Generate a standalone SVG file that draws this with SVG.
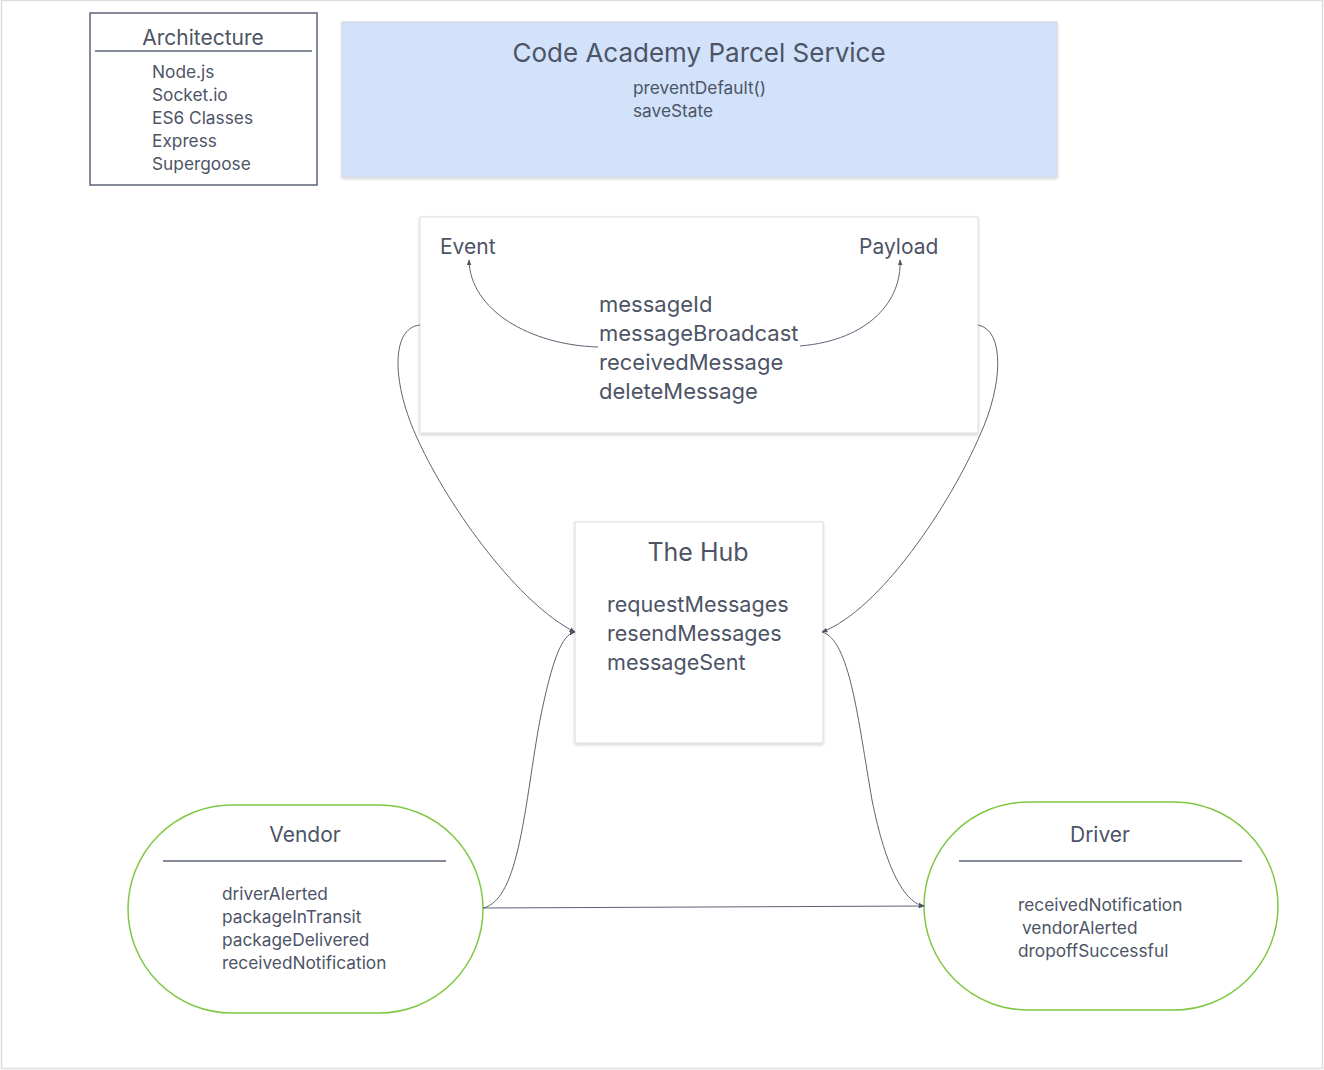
<svg xmlns="http://www.w3.org/2000/svg" width="1324" height="1070" viewBox="0 0 1324 1070">
<style>
.t{font-family:Inter,"Noto Sans","Liberation Sans",sans-serif;fill:#4d5466}
.c{fill:none;stroke:#5d6376;stroke-width:1}
.card{fill:#ffffff;stroke:#dcdcdc;stroke-width:1}
.pill{fill:#ffffff;stroke:#7ec843;stroke-width:1.5}
.rule{stroke:#5d6376;stroke-width:1.5}
</style>
<defs>
<filter id="sh" x="-5%" y="-5%" width="110%" height="115%">
<feDropShadow dx="0" dy="1.5" stdDeviation="1.5" flood-color="#000" flood-opacity="0.18"/>
</filter>
<marker id="ah" viewBox="0 0 10 10" refX="9" refY="5" markerWidth="6" markerHeight="6" orient="auto-start-reverse" markerUnits="userSpaceOnUse">
<path d="M0,1 L10,5 L0,9 z" fill="#4d5466"/>
</marker>
</defs>
<rect x="1.5" y="0.5" width="1321" height="1068" fill="#ffffff" stroke="#dedede" stroke-width="1.5"/>

<g id="architecture">
<rect x="90" y="13" width="227" height="172" fill="#ffffff" stroke="#5d6376" stroke-width="1.5"/>
<text class="t" x="203" y="45" font-size="21" text-anchor="middle">Architecture</text>
<line class="rule" x1="95" y1="51" x2="312" y2="51"/>
<text class="t" font-size="17.3"><tspan x="152" y="78">Node.js</tspan><tspan x="152" y="101">Socket.io</tspan><tspan x="152" y="124">ES6 Classes</tspan><tspan x="152" y="147">Express</tspan><tspan x="152" y="170">Supergoose</tspan></text>
</g>

<g id="parcel-service">
<rect x="342" y="22" width="715" height="155" fill="#d1e2fa" stroke="#d0d6de" stroke-width="1" filter="url(#sh)"/>
<text class="t" x="699" y="62" font-size="26" text-anchor="middle">Code Academy Parcel Service</text>
<text class="t" font-size="17.3"><tspan x="633" y="94">preventDefault()</tspan><tspan x="633" y="117">saveState</tspan></text>
</g>

<g id="event-payload">
<rect class="card" x="420" y="217" width="558" height="216" filter="url(#sh)"/>
<text class="t" x="440" y="254" font-size="21">Event</text>
<text class="t" x="859" y="254" font-size="21">Payload</text>
<text class="t" font-size="22"><tspan x="599" y="312">messageId</tspan><tspan x="599" y="341">messageBroadcast</tspan><tspan x="599" y="370">receivedMessage</tspan><tspan x="599" y="399">deleteMessage</tspan></text>
</g>

<g id="hub">
<rect class="card" x="575" y="522" width="248" height="221" filter="url(#sh)"/>
<text class="t" x="698" y="561" font-size="25" text-anchor="middle">The Hub</text>
<text class="t" font-size="21.6"><tspan x="607" y="612">requestMessages</tspan><tspan x="607" y="641">resendMessages</tspan><tspan x="607" y="670">messageSent</tspan></text>
</g>

<g id="vendor">
<rect class="pill" x="128" y="805" width="355" height="208" rx="104" ry="104"/>
<text class="t" x="305" y="842" font-size="21" text-anchor="middle">Vendor</text>
<line class="rule" x1="163" y1="861" x2="446" y2="861"/>
<text class="t" font-size="17.3"><tspan x="222" y="900">driverAlerted</tspan><tspan x="222" y="923">packageInTransit</tspan><tspan x="222" y="946">packageDelivered</tspan><tspan x="222" y="969">receivedNotification</tspan></text>
</g>

<g id="driver">
<rect class="pill" x="924" y="802" width="354" height="208" rx="104" ry="104"/>
<text class="t" x="1100" y="842" font-size="21" text-anchor="middle">Driver</text>
<line class="rule" x1="959" y1="861" x2="1242" y2="861"/>
<text class="t" font-size="17.3"><tspan x="1018" y="911">receivedNotification</tspan><tspan x="1022" y="934">vendorAlerted</tspan><tspan x="1018" y="957">dropoffSuccessful</tspan></text>
</g>

<g id="connectors">
<path class="c" d="M420,325 C390,328 392,385 418,440 C450,510 520,605 575,632" marker-end="url(#ah)"/>
<path class="c" d="M978,325 C1005,330 1003,385 980,435 C950,505 880,610 822,632" marker-end="url(#ah)"/>
<path class="c" d="M598,347 C530,345 470,310 469,260" marker-end="url(#ah)"/>
<path class="c" d="M800,346 C870,340 902,300 900,260" marker-end="url(#ah)"/>
<path class="c" d="M483,908 C520,900 525,800 540,720 C552,660 562,634 575,632" marker-end="url(#ah)"/>
<path class="c" d="M822,632 C850,640 858,720 872,800 C886,870 905,903 924,906" marker-end="url(#ah)"/>
<path class="c" d="M483,908 L924,906" marker-end="url(#ah)"/>
</g>
</svg>
